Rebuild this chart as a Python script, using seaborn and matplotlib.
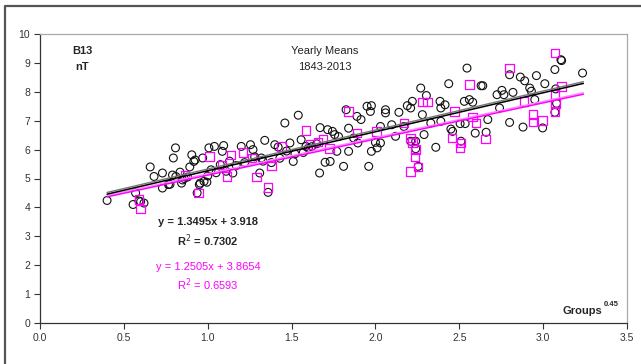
import matplotlib
matplotlib.use("Agg")
import matplotlib.pyplot as plt
import seaborn as sns
import numpy as np
from matplotlib.lines import Line2D

# ---- data: black circles (all years) ----
circ_x = [0.40, 0.555, 0.57, 0.59, 0.62, 0.60, 0.657, 0.68, 0.73, 0.73, 0.766, 0.775, 0.795, 0.808, 0.79,
          0.81, 0.835, 0.844, 0.85, 0.86, 0.88, 0.893, 0.905, 0.917, 0.925, 0.937, 0.95, 0.955, 0.97, 0.978,
          0.995, 1.0, 1.007, 1.02, 1.04, 1.05, 1.075, 1.087, 1.095, 1.11, 1.13, 1.15, 1.17, 1.20, 1.22,
          1.255, 1.27, 1.28, 1.31, 1.32, 1.33, 1.34, 1.36, 1.38, 1.40, 1.42, 1.43, 1.46, 1.47, 1.49,
          1.51, 1.52, 1.54, 1.557, 1.57, 1.586, 1.60, 1.62, 1.65, 1.667, 1.67, 1.70, 1.715, 1.73, 1.744,
          1.757, 1.77, 1.78, 1.81, 1.825, 1.84, 1.84, 1.87, 1.89, 1.895, 1.914, 1.95, 1.96, 1.97, 1.976,
          1.976, 2.0, 2.01, 2.03, 2.03, 2.06, 2.06, 2.097, 2.12, 2.14, 2.17, 2.19, 2.21, 2.21, 2.22,
          2.24, 2.24, 2.255, 2.27, 2.28, 2.29, 2.304, 2.33, 2.36, 2.385, 2.39, 2.39, 2.415, 2.437, 2.45,
          2.46, 2.505, 2.51, 2.53, 2.535, 2.546, 2.56, 2.58, 2.595, 2.63, 2.64, 2.66, 2.67, 2.725, 2.74,
          2.754, 2.766, 2.80, 2.80, 2.82, 2.864, 2.88, 2.89, 2.92, 2.93, 2.95, 2.96, 2.997, 3.01, 3.07,
          3.07, 3.075, 3.08, 3.106, 3.11, 3.235]
circ_y = [4.24, 4.10, 4.50, 4.22, 4.15, 4.20, 5.40, 5.07, 5.19, 4.67, 4.79, 4.80, 5.71, 6.06, 5.12,
          5.07, 5.22, 4.84, 4.95, 5.00, 5.05, 5.40, 5.82, 5.59, 5.64, 4.50, 4.79, 4.84, 5.71, 4.90,
          4.87, 5.09, 6.06, 5.30, 6.11, 5.20, 5.48, 5.94, 6.14, 5.25, 5.60, 5.19, 5.45, 6.11, 5.55,
          6.17, 6.00, 5.75, 5.19, 5.71, 5.60, 6.32, 4.52, 5.55, 6.17, 6.09, 5.70, 6.92, 5.95, 6.23,
          5.59, 5.85, 7.19, 6.34, 5.90, 6.11, 6.05, 6.10, 6.20, 5.19, 6.76, 5.56, 6.69, 5.59, 6.63,
          6.52, 5.94, 6.45, 5.42, 7.38, 6.74, 5.94, 6.40, 7.15, 6.23, 7.04, 7.50, 5.42, 7.32, 7.52,
          5.94, 6.25, 6.06, 6.80, 6.23, 7.38, 7.27, 6.86, 6.46, 7.29, 6.80, 7.52, 7.44, 6.29, 7.67,
          6.29, 6.03, 5.42, 8.13, 7.21, 6.52, 7.87, 6.92, 6.08, 7.67, 7.44, 6.98, 7.55, 8.28, 6.71,
          6.63, 6.90, 6.29, 7.67, 6.90, 8.82, 7.73, 7.64, 6.57, 8.21, 8.21, 6.60, 7.04, 7.90, 7.44,
          8.05, 7.90, 6.94, 8.59, 7.98, 8.51, 6.78, 8.38, 8.13, 8.02, 7.73, 8.56, 6.75, 8.28, 8.77,
          7.29, 8.10, 7.60, 9.11, 9.08, 8.65]

# ---- data: magenta squares (subset) ----
sq_x = [0.59, 0.60, 0.865, 0.946, 1.01, 1.085, 1.115, 1.14, 1.21, 1.265, 1.29, 1.36, 1.38, 1.44,
        1.586, 1.61, 1.658, 1.687, 1.727, 1.84, 1.89, 2.007, 2.17, 2.21, 2.21, 2.22, 2.235, 2.24,
        2.255, 2.28, 2.31, 2.457, 2.47, 2.503, 2.51, 2.56, 2.58, 2.60, 2.656, 2.80, 2.887, 2.94,
        2.94, 2.997, 3.07, 3.07, 3.07, 3.075, 3.11]
sq_y = [4.27, 3.94, 5.12, 4.50, 5.77, 5.47, 5.07, 5.82, 5.90, 5.71, 5.05, 4.69, 5.43, 6.11,
        6.67, 6.17, 6.26, 6.37, 6.03, 7.32, 6.57, 6.63, 6.92, 5.25, 6.40, 6.25, 5.74, 6.00,
        5.40, 7.64, 7.64, 6.40, 7.32, 6.06, 6.23, 8.25, 7.13, 6.92, 6.37, 8.82, 7.67, 7.21,
        6.96, 7.01, 9.34, 7.90, 7.32, 7.59, 8.19]

# ---- trend lines (from the printed equations) ----
fit_x_range = [0.40, 3.24]
black_slope, black_icpt = 1.3495, 3.918
mag_slope, mag_icpt = 1.2505, 3.8654

x_ticks = [0.0, 0.5, 1.0, 1.5, 2.0, 2.5, 3.0, 3.5]
x_tick_labels = ["0.0", "0.5", "1.0", "1.5", "2.0", "2.5", "3.0", "3.5"]
y_ticks = list(range(0, 11))

sns.set_style("white")
plt.rcParams['font.family'] = ['Liberation Sans', 'DejaVu Sans']

fig = plt.figure(figsize=(6.41, 3.64), dpi=100)
ax = fig.add_axes([40/641, 1-323/364, (627-40)/641, (323-34)/364])

MAG = "#FF00FF"
sns.scatterplot(x=circ_x, y=circ_y, ax=ax, marker="o", s=32, facecolor="none",
                edgecolor="#111111", linewidth=0.8, zorder=2)
sns.scatterplot(x=sq_x, y=sq_y, ax=ax, marker="s", s=38, facecolor="none",
                edgecolor=MAG, linewidth=0.9, zorder=3)

fx = np.array(fit_x_range)
sns.lineplot(x=fx, y=black_slope*fx + black_icpt + 0.06, ax=ax, color="#777777", lw=1.0, zorder=4)
sns.lineplot(x=fx, y=black_slope*fx + black_icpt, ax=ax, color="black", lw=1.1, zorder=5)
sns.lineplot(x=fx, y=mag_slope*fx + mag_icpt + 0.05, ax=ax, color="#FF88FF", lw=1.0, zorder=4)
sns.lineplot(x=fx, y=mag_slope*fx + mag_icpt, ax=ax, color=MAG, lw=1.1, zorder=5)

ax.set_xlim(0, 3.5)
ax.set_ylim(0, 10)
ax.set_xticks(x_ticks)
ax.set_xticklabels(x_tick_labels)
ax.set_yticks(y_ticks)
ax.tick_params(axis="both", direction="out", length=4, width=0.8, color="#333333",
               labelsize=7.5, labelcolor="#333333", bottom=True, left=True, pad=3)
ax.set_xlabel("")
ax.set_ylabel("")
for s in ["left", "bottom"]:
    ax.spines[s].set_color("#333333")
    ax.spines[s].set_linewidth(0.9)
for s in ["top", "right"]:
    ax.spines[s].set_color("#aaaaaa")
    ax.spines[s].set_linewidth(0.9)

ax.text(0.072, 0.94, "B13", transform=ax.transAxes, fontsize=8, fontweight="bold",
        ha="center", va="center")
ax.text(0.072, 0.885, "nT", transform=ax.transAxes, fontsize=8, fontweight="bold",
        ha="center", va="center")
ax.text(0.485, 0.94, "Yearly Means", transform=ax.transAxes, fontsize=8, ha="center", va="center",
        color="#222222")
ax.text(0.485, 0.885, "1843-2013", transform=ax.transAxes, fontsize=8, ha="center", va="center",
        color="#222222")
ax.text(0.286, 0.351, "y = 1.3495x + 3.918", transform=ax.transAxes, fontsize=8, fontweight="bold",
        ha="center", va="center")
ax.text(0.286, 0.285, "R$^{2}$ = 0.7302", transform=ax.transAxes, fontsize=8, fontweight="bold",
        ha="center", va="center")
ax.text(0.286, 0.195, "y = 1.2505x + 3.8654", transform=ax.transAxes, fontsize=8,
        ha="center", va="center", color=MAG)
ax.text(0.286, 0.133, "R$^{2}$ = 0.6593", transform=ax.transAxes, fontsize=8,
        ha="center", va="center", color=MAG)
ax.text(0.958, 0.04, "Groups", transform=ax.transAxes, fontsize=8, fontweight="bold",
        ha="right", va="center")
ax.text(0.960, 0.063, "0.45", transform=ax.transAxes, fontsize=5.5, fontweight="bold",
        ha="left", va="center")

# outer frame (left and top edges visible)
fig.add_artist(Line2D([5/641, 5/641, 1.0], [0.0, 1-6/364, 1-6/364], transform=fig.transFigure,
                      color="#555555", lw=1.6))

fig.savefig("out.png", dpi=100)
